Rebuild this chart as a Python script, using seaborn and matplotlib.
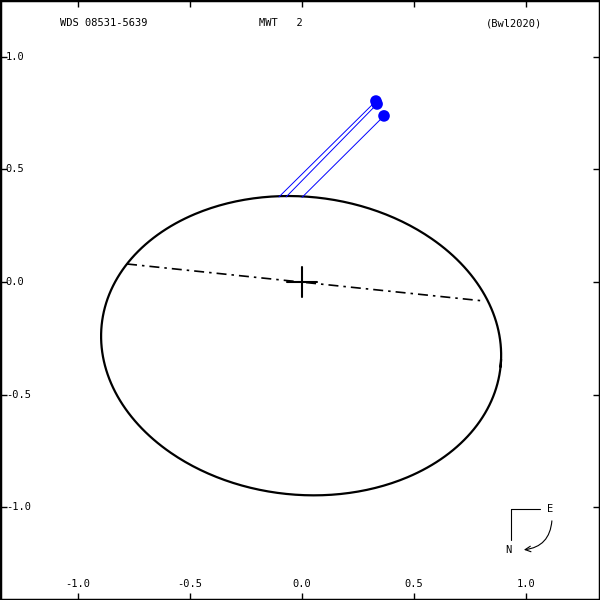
import numpy as np
import pandas as pd
import matplotlib
matplotlib.use("Agg")
import matplotlib.pyplot as plt
import seaborn as sns

# orbit ellipse (apparent orbit)
ell_center = (-0.004, -0.283)
ell_a = 0.895
ell_b = 0.662
ell_angle_deg = -6.0

# line of nodes end points
node_x = [-0.781, 0.808]
node_y = [0.080, -0.084]

# observations and their predicted positions on the orbit
obs_x = [0.330, 0.335, 0.366]
obs_y = [0.804, 0.791, 0.738]
pred_x = [-0.103, -0.071, 0.000]
pred_y = [0.378, 0.378, 0.376]

x_ticks = [-1.0, -0.5, 0.0, 0.5, 1.0]
y_ticks = [1.0, 0.5, 0.0, -0.5, -1.0]

sns.set_style("white")
plt.rcParams['font.family'] = ['DejaVu Sans Mono']
plt.rcParams['text.color'] = 'black'

fig = plt.figure(figsize=(6, 6), dpi=100)
ax = fig.add_axes([0, 0, 1, 1])

# small overlap past 2*pi so the closed curve has no seam
t = np.linspace(0, 2 * np.pi + 0.05, 420)
th = np.radians(ell_angle_deg)
ex = ell_center[0] + ell_a * np.cos(t) * np.cos(th) - ell_b * np.sin(t) * np.sin(th)
ey = ell_center[1] + ell_a * np.cos(t) * np.sin(th) + ell_b * np.sin(t) * np.cos(th)
orbit = pd.DataFrame({'x': ex, 'y': ey})
sns.lineplot(data=orbit, x='x', y='y', sort=False, estimator=None,
             color='black', lw=1.6, ax=ax)

ax.plot(node_x, node_y, color='black', lw=1.2, dashes=(6, 3, 1.5, 3))

# O-C lines
for ox, oy, px, py in zip(obs_x, obs_y, pred_x, pred_y):
    ax.plot([ox, px], [oy, py], color='blue', lw=0.7)
obs = pd.DataFrame({'x': obs_x, 'y': obs_y})
sns.scatterplot(data=obs, x='x', y='y', color='blue', s=70, edgecolor='none', ax=ax, zorder=5)

# primary
ax.plot([-0.067, 0.067], [0, 0], color='black', lw=1.5)
ax.plot([0, 0], [-0.067, 0.067], color='black', lw=1.5)

ax.set_xlim(-1.348, 1.330)
ax.set_ylim(-1.413, 1.253)
ax.set_xticks(x_ticks)
ax.set_yticks(y_ticks)
ax.set_xticklabels([])
ax.set_yticklabels([])
ax.tick_params(direction='in', length=5, width=1, top=True, right=True,
               bottom=True, left=True, color='black')
for s in ax.spines.values():
    s.set_color('black')
    s.set_linewidth(2.5)
ax.set_xlabel('')
ax.set_ylabel('')

for xt in x_ticks:
    ax.text(xt, -1.34, f"{xt:.1f}", ha='center', va='center', fontsize=7.5)
for yt in y_ticks:
    ax.text(-1.322, yt, f"{yt:.1f}", ha='left', va='center', fontsize=7.5)

ax.text(-1.08, 1.15, "WDS 08531-5639", ha='left', va='center', fontsize=7.5)
ax.text(-0.19, 1.15, "MWT   2", ha='left', va='center', fontsize=7.5)
ax.text(0.82, 1.15, "(Bwl2020)", ha='left', va='center', fontsize=7.5)

# compass
ax.plot([0.933, 1.062], [-1.009, -1.009], color='black', lw=0.8)
ax.plot([0.933, 0.933], [-1.009, -1.147], color='black', lw=0.8)
ax.text(1.107, -1.009, "E", ha='center', va='center', fontsize=7.5)
ax.text(0.92, -1.191, "N", ha='center', va='center', fontsize=7.5)
ax.annotate("", xy=(0.978, -1.191), xytext=(1.116, -1.049),
            arrowprops=dict(arrowstyle='->', color='black', lw=0.8,
                            connectionstyle='arc3,rad=-0.45'))

fig.savefig("out.png", dpi=100)
